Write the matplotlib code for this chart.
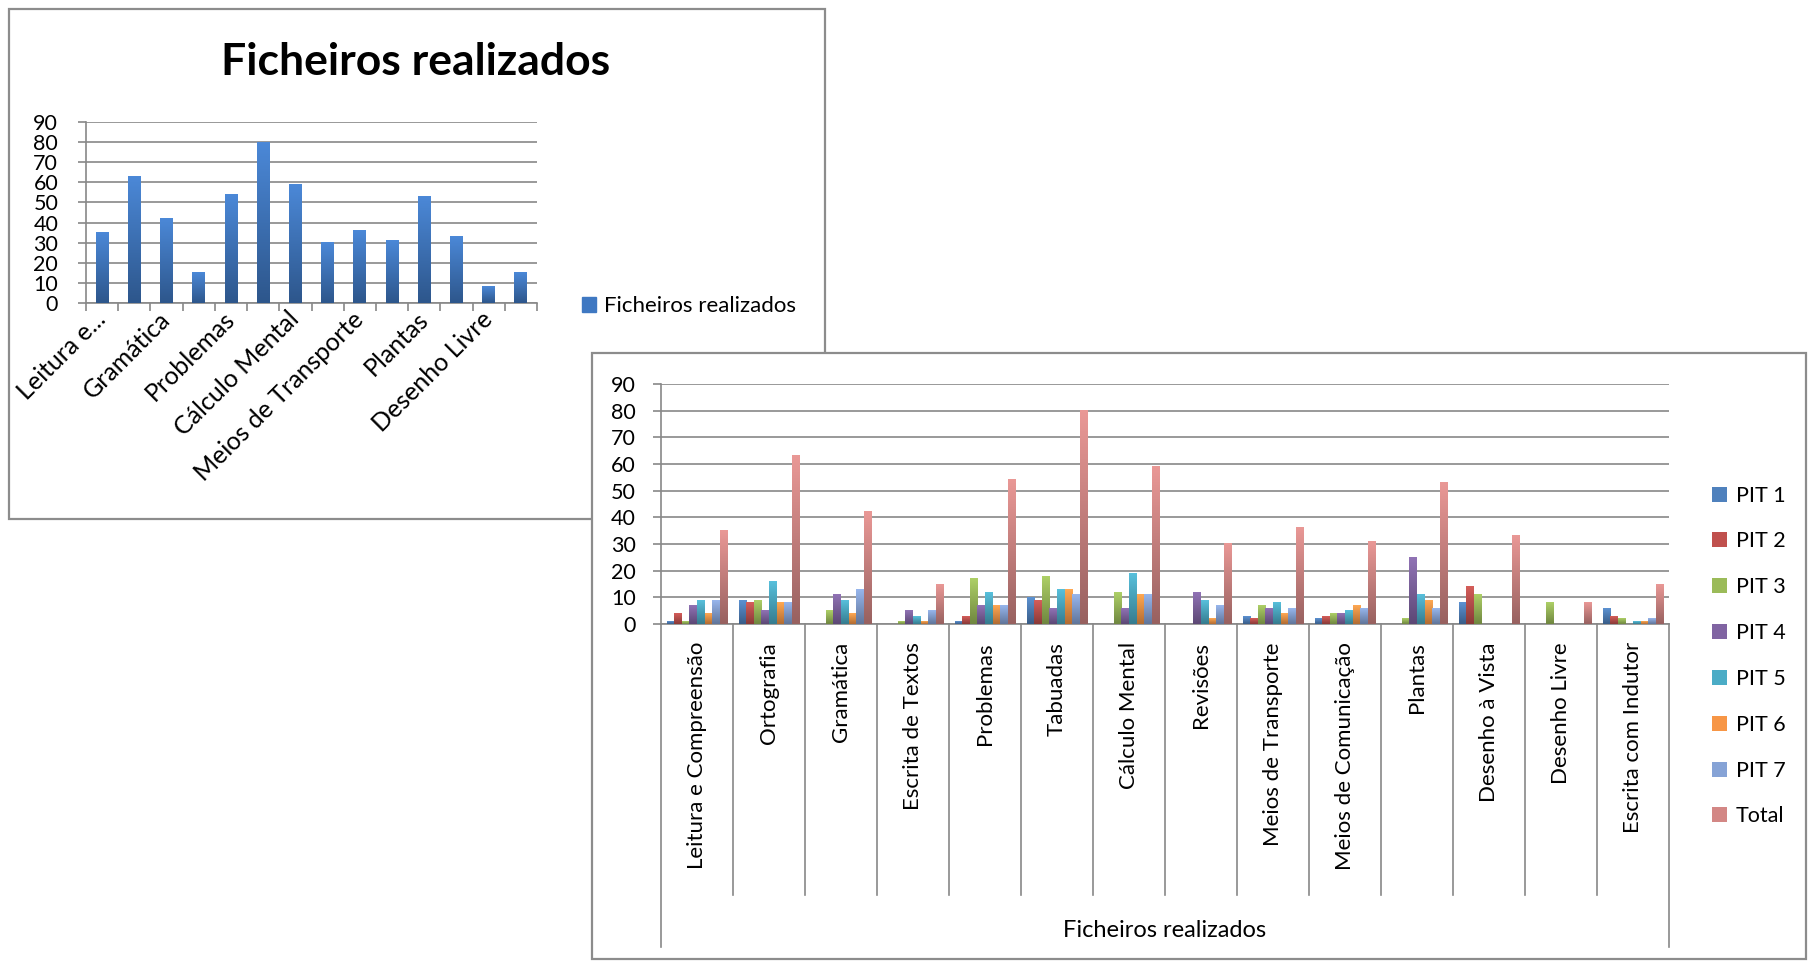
import numpy as np
import matplotlib
matplotlib.use("Agg")
import matplotlib.pyplot as plt
from matplotlib.colors import LinearSegmentedColormap, to_rgb
from matplotlib.patches import Rectangle

plt.rcParams["font.family"] = ["Lato", "DejaVu Sans"]

# ---- data -------------------------------------------------------------
categories = ["Leitura e Compreensão", "Ortografia", "Gramática", "Escrita de Textos",
              "Problemas", "Tabuadas", "Cálculo Mental", "Revisões", "Meios de Transporte",
              "Meios de Comunicação", "Plantas", "Desenho à Vista", "Desenho Livre",
              "Escrita com Indutor"]
top_labels = ["Leitura e...", "Gramática", "Problemas", "Cálculo Mental",
              "Meios de Transporte", "Plantas", "Desenho Livre"]
top_label_idx = [0, 2, 4, 6, 8, 10, 12]

pit1 = [1, 9, 0, 0, 1, 10, 0, 0, 3, 2, 0, 8, 0, 6]
pit2 = [4, 8, 0, 0, 3, 9, 0, 0, 2, 3, 0, 14, 0, 3]
pit3 = [1, 9, 5, 1, 17, 18, 12, 0, 7, 4, 2, 11, 8, 2]
pit4 = [7, 5, 11, 5, 7, 6, 6, 12, 6, 4, 25, 0, 0, 0]
pit5 = [9, 16, 9, 3, 12, 13, 19, 9, 8, 5, 11, 0, 0, 1]
pit6 = [4, 8, 4, 1, 7, 13, 11, 2, 4, 7, 9, 0, 0, 1]
pit7 = [9, 8, 13, 5, 7, 11, 11, 7, 6, 6, 6, 0, 0, 2]
total = [35, 63, 42, 15, 54, 80, 59, 30, 36, 31, 53, 33, 8, 15]

series_names = ["PIT 1", "PIT 2", "PIT 3", "PIT 4", "PIT 5", "PIT 6", "PIT 7", "Total"]
series_colors = ["#4F81BD", "#C0504D", "#9BBB59", "#8064A2", "#4BACC6", "#F79646",
                 "#86A3D6", "#D38785"]
y_ticks = [0, 10, 20, 30, 40, 50, 60, 70, 80, 90]

W, H = 1809, 963
GRID = "#888888"


def box(x0, y0, x1, y1):
    """pixel box (top-left origin) -> figure fraction rect"""
    return [x0 / W, 1 - y1 / H, (x1 - x0) / W, (y1 - y0) / H]


def shade(ax, bars, color):
    c = np.array(to_rgb(color))
    cmap = LinearSegmentedColormap.from_list("g", [c * 0.72, np.clip(c * 1.07 + 0.03, 0, 1)])
    grad = np.linspace(0, 1, 64).reshape(-1, 1)
    for b in bars:
        h = b.get_height()
        if h <= 0:
            continue
        x0, w = b.get_x(), b.get_width()
        ax.imshow(grad, extent=[x0, x0 + w, 0, h], origin="lower", cmap=cmap,
                  aspect="auto", zorder=3, interpolation="bilinear")


def style_yaxis(ax, pad):
    ax.set_ylim(0, 90)
    ax.set_yticks(y_ticks)
    ax.yaxis.grid(True, color=GRID, lw=1.2)
    ax.set_axisbelow(True)
    for s in ("top", "right"):
        ax.spines[s].set_visible(False)
    for s in ("left", "bottom"):
        ax.spines[s].set_color(GRID)
        ax.spines[s].set_linewidth(1.2)
    ax.tick_params(axis="y", length=6, width=1.2, color=GRID, pad=pad, labelsize=15.5)
    ax.set_facecolor("none")


fig = plt.figure(figsize=(W / 100, H / 100), dpi=100)

# frames: top chart first, bottom chart covers it
fig.add_artist(Rectangle((9 / W, 1 - 519 / H), 816 / W, 510 / H, transform=fig.transFigure,
                         facecolor="white", edgecolor="#8c8c8c", lw=1.6, zorder=0.5))
fig.add_artist(Rectangle((592 / W, 1 - 959 / H), 1214 / W, 606 / H, transform=fig.transFigure,
                         facecolor="white", edgecolor="#8c8c8c", lw=1.6, zorder=2))

# ---- top chart --------------------------------------------------------
ax1 = fig.add_axes(box(86, 122, 537, 303), zorder=1)
x = np.arange(len(categories))
b1 = ax1.bar(x, total, width=0.4, color="#3F78C2", zorder=2, label="Ficheiros realizados")
shade(ax1, b1, "#3F78C2")
style_yaxis(ax1, pad=14)
ax1.set_xlim(-0.5, len(categories) - 0.5)
ax1.set_xticks(np.arange(len(categories) + 1) - 0.5)
ax1.set_xticklabels([])
ax1.tick_params(axis="x", which="major", length=6, width=1.2, color=GRID, direction="out")
ax1.set_xticks(top_label_idx, minor=True)
ax1.set_xticklabels(top_labels, minor=True, rotation=45, ha="right", va="center",
                    rotation_mode="anchor", fontsize=18)
ax1.tick_params(axis="x", which="minor", length=0, pad=9)
fig.text(416 / W, 1 - 62 / H, "Ficheiros realizados", fontsize=32, fontweight="bold",
         ha="center", va="center")
ax1.legend(handles=[Rectangle((0, 0), 1, 1, color="#3F78C2")], labels=["Ficheiros realizados"],
           loc="center left", bbox_to_anchor=(582 / W, 1 - 306 / H), bbox_transform=fig.transFigure,
           frameon=False, fontsize=16, handlelength=0.65, handleheight=0.65, handletextpad=0.35,
           borderpad=0, borderaxespad=0)

# ---- bottom chart -----------------------------------------------------
ax2 = fig.add_axes(box(661, 384, 1669, 624), zorder=3)
series = [pit1, pit2, pit3, pit4, pit5, pit6, pit7, total]
bw = 1 / 9.5
handles = []
for i, (vals, col, name) in enumerate(zip(series, series_colors, series_names)):
    bars = ax2.bar(x + (i - 3.5) * bw, vals, width=bw, color=col, zorder=2, label=name)
    shade(ax2, bars, col)
    handles.append(bars)
style_yaxis(ax2, pad=12)
ax2.set_xlim(-0.5, len(categories) - 0.5)
ax2.set_xticks(x)
ax2.set_xticklabels(categories, rotation=90, ha="center", va="top", fontsize=16)
ax2.tick_params(axis="x", length=0, pad=13)

trans = ax2.get_xaxis_transform()
sep_bottom = (624 - 895) / 240
outer_bottom = (624 - 947) / 240
for b in np.arange(1, len(categories)) - 0.5:
    ax2.plot([b, b], [0, sep_bottom], color=GRID, lw=1.2, transform=trans, clip_on=False)
for b in (-0.5, len(categories) - 0.5):
    ax2.plot([b, b], [0, outer_bottom], color=GRID, lw=1.2, transform=trans, clip_on=False)
ax2.text((len(categories) - 1) / 2, (624 - 930) / 240, "Ficheiros realizados", transform=trans,
         ha="center", va="center", fontsize=17)

ax2.legend(handles=handles, labels=series_names, loc="center left",
           bbox_to_anchor=(1712 / W, 1 - 656 / H), bbox_transform=fig.transFigure,
           frameon=False, fontsize=15.5, handlelength=0.7, handleheight=0.7, handletextpad=0.4,
           labelspacing=1.2, borderpad=0, borderaxespad=0)

fig.savefig("out.png", dpi=100, facecolor="white")
